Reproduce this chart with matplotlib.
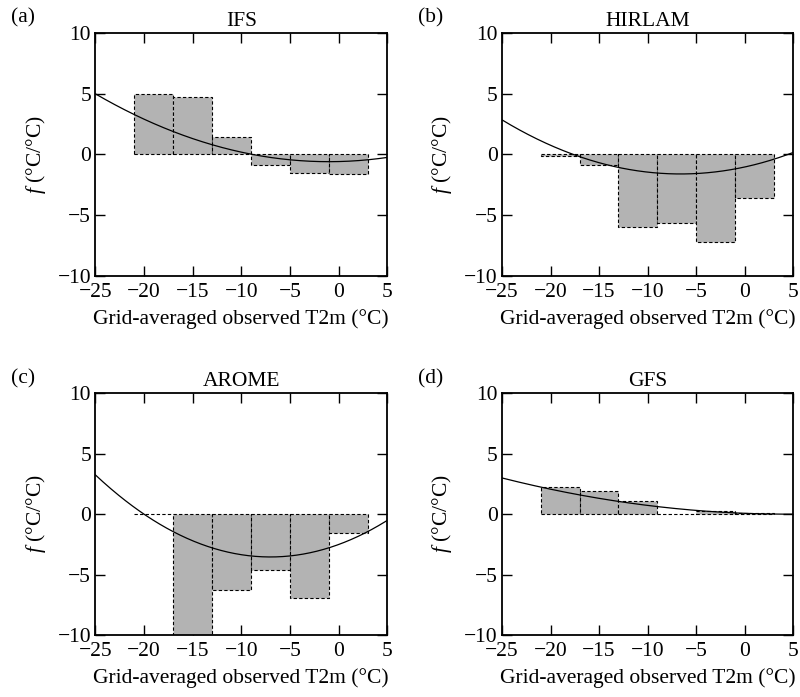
import numpy as np
import matplotlib
matplotlib.use("Agg")
import matplotlib.pyplot as plt

plt.rcParams['font.family'] = ['Liberation Serif', 'DejaVu Serif']
plt.rcParams['mathtext.fontset'] = 'custom'
plt.rcParams['mathtext.it'] = 'Liberation Serif:italic'
plt.rcParams['mathtext.rm'] = 'Liberation Serif'

bin_edges = [-21, -17, -13, -9, -5, -1, 3]
models = ["IFS", "HIRLAM", "AROME", "GFS"]
panel_letters = ["(a)", "(b)", "(c)", "(d)"]

ifs_vals = [4.95, 4.75, 1.42, -0.85, -1.56, -1.64]
hirlam_vals = [-0.16, -0.9, -5.93, -5.63, -7.24, -3.58]
arome_vals = [0.0, -11.0, -6.25, -4.66, -6.91, -1.57]
gfs_vals = [2.26, 1.93, 1.05, 0.0, 0.25, 0.08]

# quadratic fit: f = a*(T - h)^2 + k
ifs_fit = [0.0097, -1.0, -0.6]
hirlam_fit = [0.01314, -6.6, -1.61]
arome_fit = [0.02099, -7.0, -3.55]
gfs_fit = [0.00344, 4.5, -0.01]

xticks = [-25, -20, -15, -10, -5, 0, 5]
yticks = [-10, -5, 0, 5, 10]

all_vals = [ifs_vals, hirlam_vals, arome_vals, gfs_vals]
all_fits = [ifs_fit, hirlam_fit, arome_fit, gfs_fit]

fig = plt.figure(figsize=(8, 6.97), dpi=100)
positions = [
    [0.119, 0.604, 0.365, 0.349],
    [0.6275, 0.604, 0.364, 0.349],
    [0.119, 0.089, 0.365, 0.347],
    [0.6275, 0.089, 0.364, 0.347],
]
fs = 15.5
dash = (0, (3, 2))
for i in range(4):
    ax = fig.add_axes(positions[i])
    edges = np.array(bin_edges, dtype=float)
    widths = np.diff(edges)
    vals = all_vals[i]
    ecs = ['none' if v == 0.0 else 'black' for v in vals]
    ax.bar(edges[:-1], vals, width=widths, align='edge',
           color='#b3b3b3', edgecolor=ecs, linestyle=dash,
           linewidth=0.8, zorder=2)
    # zero-height bins drawn as a single dashed segment
    for j, v in enumerate(vals):
        if v == 0.0:
            ax.hlines(0, edges[j], edges[j + 1], colors='black',
                      linestyles=dash, linewidth=0.8, zorder=2.5)
    a, h, k = all_fits[i]
    xx = np.linspace(-25, 5, 300)
    ax.plot(xx, a * (xx - h) ** 2 + k, color='black', lw=0.9, zorder=3)
    ax.set_xlim(-25, 5)
    ax.set_ylim(-10, 10)
    ax.set_xticks(xticks)
    ax.set_yticks(yticks)
    ax.set_xticklabels([str(t).replace('-', '\u2212') for t in xticks])
    ax.set_yticklabels([str(t).replace('-', '\u2212') for t in yticks])
    ax.tick_params(direction='in', top=True, right=True, length=7,
                   width=1.0, labelsize=fs)
    ax.tick_params(axis='x', pad=5)
    ax.tick_params(axis='y', pad=3)
    for s in ax.spines.values():
        s.set_linewidth(1.3)
    ax.set_title(models[i], fontsize=fs, pad=5)
    ax.set_xlabel('Grid-averaged observed T2m (\u00b0C)', fontsize=fs, labelpad=5)
    ax.set_ylabel('$\\mathit{f}$ (\u00b0C/\u00b0C)', fontsize=fs, labelpad=7)
    ax.text(-0.29, 1.02, panel_letters[i], transform=ax.transAxes,
            fontsize=fs, ha='left', va='bottom')

fig.savefig('out.png', dpi=100)
